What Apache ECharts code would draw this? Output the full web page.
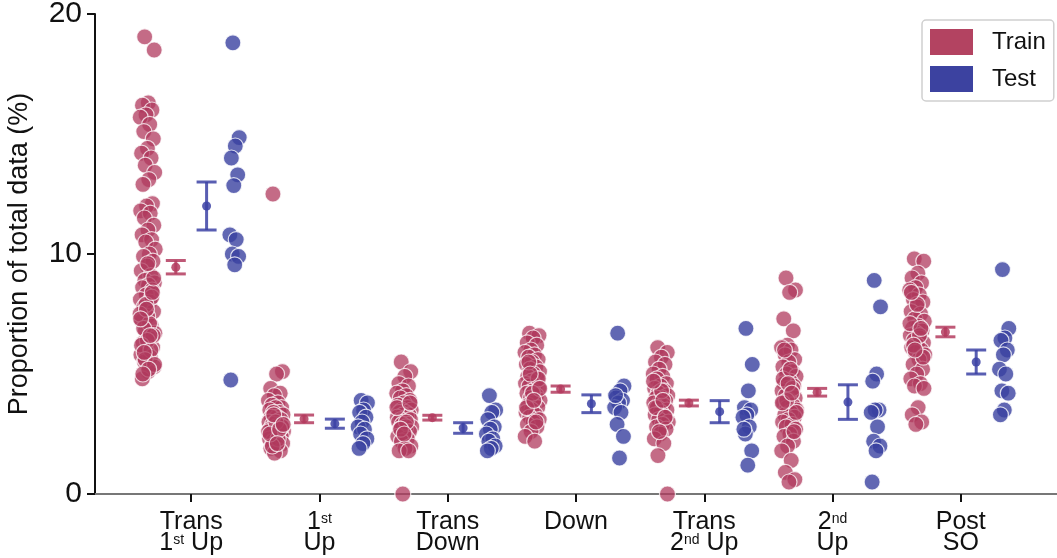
<!DOCTYPE html>
<html>
<head>
<meta charset="utf-8">
<script src="https://cdn.jsdelivr.net/npm/echarts@6/dist/echarts.min.js"></script>
<style>
html,body{margin:0;padding:0;background:#fff;}
#chart{width:1057px;height:558px;}
</style>
</head>
<body>
<div id="chart"></div>
<script>
// ---- data ----
const categories = ['Trans 1st Up', '1st Up', 'Trans Down', 'Down', 'Trans 2nd Up', '2nd Up', 'Post SO'];
const categoryLabels = ['Trans\n1{s|st} Up', '1{s|st}\nUp', 'Trans\nDown', 'Down', 'Trans\n2{s|nd} Up', '2{s|nd}\nUp', 'Post\nSO'];
const yTicks = [0, 10, 20];

const trainCat1 = [19.05, 18.5, 16.3, 16.2, 16.0, 15.8, 15.7, 15.4, 15.1, 14.8, 14.4, 14.2, 14.0, 13.7, 13.4, 13.1, 12.9,
  12.1, 12.0, 11.8, 11.7, 11.5, 11.2, 11.0, 10.8, 10.6, 10.5, 10.2, 10.0, 9.9, 9.7, 9.5, 9.3, 9.1, 8.9, 8.8, 8.7,
  8.6, 8.5, 8.3, 8.1, 8.0, 7.8, 7.6, 7.4, 7.2, 7.0, 6.8, 6.7, 6.5, 6.3, 6.1, 5.9, 5.8, 5.7, 5.5, 5.3, 5.1, 4.8,
  8.2, 7.9, 7.5, 7.1, 6.9, 6.6, 6.4, 6.2, 6.0, 5.6, 5.4, 5.2, 5.0, 8.4, 7.7, 7.3, 6.6, 5.9, 9.0, 9.6];
const trainCat2 = [12.5, 5.1, 5.0, 4.4, 4.2, 4.1, 3.9, 3.8, 3.7, 3.6, 3.6, 3.5, 3.4, 3.4, 3.3, 3.2, 3.2, 3.1, 3.0, 3.0,
  2.9, 2.9, 2.8, 2.8, 2.7, 2.7, 2.6, 2.6, 2.5, 2.5, 2.4, 2.4, 2.3, 2.2, 2.2, 2.1, 2.0, 1.9, 1.8, 1.7,
  2.6, 2.3, 2.0, 2.8, 3.0, 2.5, 2.7, 3.3, 2.9, 2.1];
const trainCat3 = [5.5, 5.1, 4.9, 4.6, 4.5, 4.3, 4.2, 4.1, 4.0, 3.9, 3.8, 3.7, 3.6, 3.5, 3.5, 3.4, 3.4, 3.3, 3.3, 3.2,
  3.2, 3.1, 3.1, 3.0, 3.0, 2.9, 2.9, 2.8, 2.8, 2.7, 2.6, 2.5, 2.4, 2.3, 2.2, 2.0, 1.9, 1.8, 1.8, 0.0,
  3.6, 3.0, 2.7, 3.8, 2.5];
const trainCat4 = [6.7, 6.6, 6.5, 6.3, 6.2, 6.0, 5.9, 5.8, 5.7, 5.6, 5.5, 5.4, 5.3, 5.2, 5.1, 5.0, 4.9, 4.8, 4.7, 4.6,
  4.5, 4.5, 4.4, 4.3, 4.2, 4.1, 4.0, 3.9, 3.8, 3.7, 3.6, 3.5, 3.4, 3.3, 3.2, 3.1, 3.0, 2.9, 2.8, 2.6,
  2.4, 2.2, 5.5, 4.8, 4.2, 3.6, 3.0, 5.0, 4.4, 3.9];
const trainCat5 = [6.1, 5.9, 5.7, 5.5, 5.4, 5.2, 5.0, 4.9, 4.8, 4.6, 4.5, 4.4, 4.3, 4.2, 4.1, 4.0, 4.0, 3.9, 3.8, 3.8,
  3.7, 3.6, 3.5, 3.4, 3.3, 3.2, 3.1, 3.0, 2.9, 2.8, 2.7, 2.5, 2.3, 2.1, 1.6, 0.0, 4.3, 3.6, 3.2, 2.6, 4.7, 3.9];
const trainCat6 = [9.0, 8.5, 8.4, 7.3, 6.8, 6.2, 6.1, 6.0, 5.8, 5.6, 5.5, 5.3, 5.1, 5.0, 4.9, 4.7, 4.6, 4.5, 4.4, 4.3,
  4.2, 4.1, 4.0, 3.9, 3.8, 3.7, 3.6, 3.5, 3.4, 3.3, 3.2, 3.1, 3.0, 2.9, 2.8, 2.7, 2.5, 2.4, 2.2, 2.0,
  1.8, 1.4, 0.9, 0.6, 0.5, 4.8, 4.4, 3.9, 3.4, 5.2, 6.0, 2.6, 4.6, 3.8, 4.2];
const trainCat7 = [9.8, 9.7, 9.2, 9.0, 8.8, 8.6, 8.5, 8.3, 8.1, 8.0, 7.8, 7.6, 7.5, 7.3, 7.2, 7.0, 6.9, 6.8, 6.7, 6.6,
  6.5, 6.4, 6.3, 6.2, 6.1, 6.0, 5.9, 5.8, 5.6, 5.4, 5.2, 5.0, 4.8, 4.6, 4.5, 4.4, 3.6, 3.3, 3.0, 2.9,
  7.1, 6.6, 6.2, 5.7, 7.9, 8.4, 6.9, 6.0];

const testCat1 = [18.8, 14.85, 14.5, 14.0, 13.3, 12.85, 10.8, 10.6, 10.0, 9.9, 9.55, 4.75];
const testCat2 = [3.9, 3.8, 3.5, 3.4, 3.2, 3.0, 2.8, 2.7, 2.5, 2.3, 2.1, 1.9];
const testCat3 = [4.1, 3.5, 3.4, 3.1, 2.8, 2.7, 2.5, 2.3, 2.2, 2.0, 1.9, 1.8];
const testCat4 = [6.7, 4.5, 4.3, 4.0, 3.9, 3.8, 3.6, 3.4, 2.9, 2.4, 1.5, 4.1];
const testCat5 = [6.9, 5.4, 4.3, 3.6, 3.5, 3.3, 3.2, 2.8, 2.5, 1.8, 1.2, 2.7];
const testCat6 = [8.9, 7.8, 5.0, 4.7, 3.5, 3.5, 3.4, 2.8, 2.2, 2.0, 1.8, 0.5];
const testCat7 = [9.35, 6.9, 6.5, 6.4, 6.0, 5.8, 5.2, 5.0, 4.3, 4.2, 3.5, 3.3];

const trainMean = [9.45, 3.13, 3.18, 4.37, 3.79, 4.24, 6.75];
const trainErr  = [0.28, 0.16, 0.10, 0.13, 0.12, 0.16, 0.20];
const testMean  = [12.0, 2.93, 2.75, 3.76, 3.43, 3.83, 5.5];
const testErr   = [1.0, 0.19, 0.22, 0.37, 0.46, 0.72, 0.5];

const trainValues = [trainCat1, trainCat2, trainCat3, trainCat4, trainCat5, trainCat6, trainCat7];
const testValues = [testCat1, testCat2, testCat3, testCat4, testCat5, testCat6, testCat7];

// ---- layout / style ----
const FONT = "'Liberation Sans', Arial, sans-serif";
const TRAIN = '#b03a5e';
const TEST = '#3a41a0';
const offScatter = 0.34, offMean = 0.12;
const X_MIN = -0.75, X_MAX = 6.75, SUB = 4; // quarter-unit slots for the tick axis

function jitter(j, w) {
  const f = (j * 0.6180339887 + 0.31) % 1;
  return (f - 0.5) * 2 * w;
}

const trainPts = [], testPts = [];
trainValues.forEach((arr, i) => arr.forEach((v, j) => trainPts.push([i - offScatter + jitter(j, 0.06), v])));
testValues.forEach((arr, i) => arr.forEach((v, j) => testPts.push([i + offScatter + jitter(j, 0.04), v])));

const trainErrData = trainMean.map((m, i) => [i - offMean, m, trainErr[i]]);
const testErrData = testMean.map((m, i) => [i + offMean, m, testErr[i]]);

// tick axis slots: one slot every quarter unit from X_MIN to X_MAX
const nSlots = Math.round((X_MAX - X_MIN) * SUB) + 1;
const firstCat = Math.round(-X_MIN * SUB);
const slotLabels = Array.from({ length: nSlots }, (_, k) =>
  (k >= firstCat && (k - firstCat) % SUB === 0) ? categoryLabels[(k - firstCat) / SUB] : '');

function errRender(color) {
  return function (params, api) {
    const x = api.value(0), m = api.value(1), e = api.value(2);
    const top = api.coord([x, m + e]);
    const bot = api.coord([x, m - e]);
    const mid = api.coord([x, m]);
    const hw = 10;
    const st = { stroke: color, lineWidth: 3 };
    return {
      type: 'group',
      children: [
        { type: 'line', shape: { x1: top[0], y1: top[1], x2: bot[0], y2: bot[1] }, style: st },
        { type: 'line', shape: { x1: top[0] - hw, y1: top[1], x2: top[0] + hw, y2: top[1] }, style: st },
        { type: 'line', shape: { x1: bot[0] - hw, y1: bot[1], x2: bot[0] + hw, y2: bot[1] }, style: st },
        { type: 'circle', shape: { cx: mid[0], cy: mid[1], r: 4.5 }, style: { fill: color } }
      ]
    };
  };
}

const chart = echarts.init(document.getElementById('chart'));
chart.setOption({
  animation: false,
  backgroundColor: '#fff',
  grid: { left: 95, right: 0, top: 14, bottom: 64, containLabel: false, outerBoundsMode: 'none' },
  legend: {
    left: 922, top: 20,
    orient: 'vertical',
    itemWidth: 43, itemHeight: 26, itemGap: 11,
    padding: [9, 8, 9, 8],
    borderColor: '#cfcfcf', borderWidth: 1.5, borderRadius: 4,
    backgroundColor: '#fff',
    icon: 'rect',
    textStyle: { fontFamily: FONT, fontSize: 24, color: '#111', padding: [0, 0, 0, 14] },
    data: [
      { name: 'Train', itemStyle: { color: '#b34361', opacity: 1, borderWidth: 0 } },
      { name: 'Test', itemStyle: { color: '#3c42a0', opacity: 1, borderWidth: 0 } }
    ]
  },
  xAxis: [
    {
      type: 'value', min: X_MIN, max: X_MAX, show: false,
      splitLine: { show: false }
    },
    {
      type: 'category', data: slotLabels, boundaryGap: false, position: 'bottom',
      axisLine: { show: true, onZero: false, lineStyle: { color: '#777', width: 2 } },
      axisTick: { show: true, length: 8, lineStyle: { color: '#111', width: 2 },
        interval: (idx) => idx >= firstCat && (idx - firstCat) % SUB === 0 },
      axisLabel: {
        interval: 0,
        fontFamily: FONT, fontSize: 25, lineHeight: 21, color: '#111', margin: 18,
        rich: { s: { fontFamily: FONT, fontSize: 14, verticalAlign: 'top', lineHeight: 21, color: '#111' } }
      },
      splitLine: { show: false }
    }
  ],
  yAxis: {
    type: 'value', min: 0, max: 20, interval: 10,
    name: 'Proportion of total data (%)',
    nameLocation: 'middle', nameGap: 62,
    nameTextStyle: { fontFamily: FONT, fontSize: 27, color: '#111' },
    splitLine: { show: false },
    axisLine: { show: true, onZero: false, lineStyle: { color: '#111', width: 2 } },
    axisTick: { show: true, length: 8, lineStyle: { color: '#111', width: 2 } },
    axisLabel: { fontFamily: FONT, fontSize: 30, color: '#111', margin: 13, customValues: yTicks }
  },
  series: [
    {
      name: 'Train', type: 'scatter', data: trainPts, symbolSize: 16, xAxisIndex: 0,
      itemStyle: { color: TRAIN, opacity: 0.75, borderColor: '#fff', borderWidth: 1.2 }
    },
    {
      name: 'Test', type: 'scatter', data: testPts, symbolSize: 16, xAxisIndex: 0,
      itemStyle: { color: TEST, opacity: 0.8, borderColor: '#fff', borderWidth: 1.2 }
    },
    {
      name: 'Train mean', type: 'custom', data: trainErrData, xAxisIndex: 0, renderItem: errRender('rgba(180,60,95,0.85)'),
      encode: { x: 0, y: 1 }
    },
    {
      name: 'Test mean', type: 'custom', data: testErrData, xAxisIndex: 0, renderItem: errRender('rgba(60,66,165,0.85)'),
      encode: { x: 0, y: 1 }
    }
  ]
});
</script>
</body>
</html>
